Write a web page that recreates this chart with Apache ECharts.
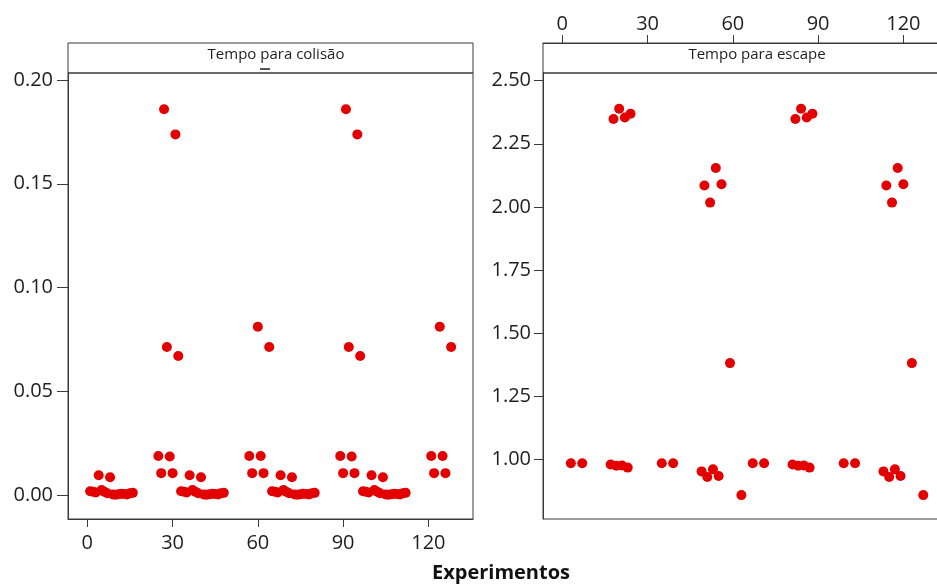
<!DOCTYPE html>
<html>
<head>
<meta charset="utf-8">
<title>Tempo para colisão / Tempo para escape</title>
<script src="https://cdn.jsdelivr.net/npm/echarts@6/dist/echarts.min.js"></script>
<style>
    * {
        margin: 0;
        padding: 0;
    }
    body {
        background-color: #ffffff;
    }
    #chart {
        width: 937px;
        height: 588px;
    }
</style>
</head>
<body>
<div id="chart"></div>
<script>
    // painel esquerdo - Tempo para colisão
    var expColisao = [1, 2, 3, 4, 5, 6, 7, 8, 9, 10, 11, 12, 13, 14, 15, 16,
        25, 26, 27, 28, 29, 30, 31, 32,
        33, 34, 35, 36, 37, 38, 39, 40, 41, 42, 43, 44, 45, 46, 47, 48,
        57, 58, 60, 61, 62, 64,
        65, 66, 67, 68, 69, 70, 71, 72, 73, 74, 75, 76, 77, 78, 79, 80,
        89, 90, 91, 92, 93, 94, 95, 96,
        97, 98, 99, 100, 101, 102, 103, 104, 105, 106, 107, 108, 109, 110, 111, 112,
        121, 122, 124, 125, 126, 128]
    var tempoColisao = [0.0018, 0.0015, 0.0012, 0.0095, 0.0024, 0.0015, 0.0008, 0.0085, 0.0002, 0.0001, 0.0003, 0.0006, 0.0005, 0.0002, 0.0008, 0.0010,
        0.0188, 0.0105, 0.1859, 0.0713, 0.0185, 0.0105, 0.1738, 0.0670,
        0.0018, 0.0015, 0.0012, 0.0095, 0.0024, 0.0015, 0.0008, 0.0085, 0.0002, 0.0001, 0.0003, 0.0006, 0.0005, 0.0002, 0.0008, 0.0010,
        0.0188, 0.0105, 0.0811, 0.0188, 0.0105, 0.0713,
        0.0018, 0.0015, 0.0012, 0.0095, 0.0024, 0.0015, 0.0008, 0.0085, 0.0002, 0.0001, 0.0003, 0.0006, 0.0005, 0.0002, 0.0008, 0.0010,
        0.0188, 0.0105, 0.1859, 0.0713, 0.0185, 0.0105, 0.1738, 0.0670,
        0.0018, 0.0015, 0.0012, 0.0095, 0.0024, 0.0015, 0.0008, 0.0085, 0.0002, 0.0001, 0.0003, 0.0006, 0.0005, 0.0002, 0.0008, 0.0010,
        0.0188, 0.0105, 0.0811, 0.0188, 0.0105, 0.0713]

    // painel direito - Tempo para escape
    var expEscape = [3, 7,
        17, 18, 19, 20, 21, 22, 23, 24,
        35, 39,
        49, 50, 51, 52, 53, 54, 55, 56,
        59, 63,
        67, 71,
        81, 82, 83, 84, 85, 86, 87, 88,
        99, 103,
        113, 114, 115, 116, 117, 118, 119, 120,
        123, 127]
    var tempoEscape = [0.984, 0.984,
        0.979, 2.348, 0.974, 2.389, 0.975, 2.354, 0.967, 2.369,
        0.984, 0.984,
        0.952, 2.085, 0.930, 2.017, 0.960, 2.154, 0.934, 2.090,
        1.381, 0.858,
        0.984, 0.984,
        0.979, 2.348, 0.974, 2.389, 0.975, 2.354, 0.967, 2.369,
        0.984, 0.984,
        0.952, 2.085, 0.930, 2.017, 0.960, 2.154, 0.934, 2.090,
        1.381, 0.858]

    var xTicks = [0, 30, 60, 90, 120]
    var yTicksColisao = [0, 0.05, 0.10, 0.15, 0.20]
    var yTicksEscape = [1.00, 1.25, 1.50, 1.75, 2.00, 2.25, 2.50]
    var paineis = ['Tempo para colisão', 'Tempo para escape']

    var corTexto = '#1e1e1e'
    var corLinha = '#3a3a3a'
    var corPonto = '#e30000'

    function eixoX(grid, pos, offset, margin) {
        return {
            type: 'value',
            gridIndex: grid,
            position: pos,
            offset: offset,
            min: -6.8,
            max: 135.7,
            axisLine: {show: true, onZero: false, lineStyle: {color: corLinha}},
            axisTick: {show: true, length: 8, customValues: xTicks, lineStyle: {color: corLinha}},
            axisLabel: {
                customValues: xTicks,
                margin: margin,
                color: corTexto,
                fontFamily: 'Open Sans',
                fontSize: 20
            },
            splitLine: {show: false}
        }
    }

    function eixoY(grid, min, max, ticks, tickLen, margin) {
        return {
            type: 'value',
            gridIndex: grid,
            min: min,
            max: max,
            axisLine: {show: true, onZero: false, lineStyle: {color: corLinha}},
            axisTick: {show: true, length: tickLen, customValues: ticks, lineStyle: {color: corLinha}},
            axisLabel: {
                customValues: ticks,
                margin: margin,
                color: corTexto,
                fontFamily: 'Open Sans',
                fontSize: 20,
                formatter: function (v) {
                    return v.toFixed(2)
                }
            },
            splitLine: {show: false}
        }
    }

    function pontos(x, y) {
        var d = []
        for (var i = 0; i < x.length; i++) {
            d.push([x[i], y[i]])
        }
        return d
    }

    var chart = echarts.init(document.getElementById('chart'))
    var option = {
        animation: false,
        backgroundColor: '#ffffff',
        grid: [
            {left: 68, top: 73, width: 405, height: 446, show: true, borderColor: corLinha, borderWidth: 1, outerBoundsMode: 'none'},
            // o painel direito continua além da borda da imagem
            {left: 543, top: 73, width: 405, height: 446, show: true, borderColor: corLinha, borderWidth: 1, outerBoundsMode: 'none'}
        ],
        xAxis: [eixoX(0, 'bottom', 0, 14), eixoX(1, 'top', 30, 9)],
        yAxis: [
            eixoY(0, -0.0116, 0.2034, yTicksColisao, 11, 15),
            eixoY(1, 0.7633, 2.5305, yTicksEscape, 9, 12)
        ],
        series: [
            {
                name: paineis[0],
                type: 'scatter',
                xAxisIndex: 0,
                yAxisIndex: 0,
                symbolSize: 10,
                itemStyle: {color: corPonto, opacity: 1},
                data: pontos(expColisao, tempoColisao)
            },
            {
                name: paineis[1],
                type: 'scatter',
                xAxisIndex: 1,
                yAxisIndex: 1,
                symbolSize: 10,
                itemStyle: {color: corPonto, opacity: 1},
                data: pontos(expEscape, tempoEscape)
            }
        ],
        graphic: [
            // faixas de título dos painéis
            {type: 'rect', shape: {x: 68, y: 43, width: 405, height: 30}, style: {fill: 'none', stroke: corLinha, lineWidth: 1}},
            {type: 'rect', shape: {x: 543, y: 43, width: 405, height: 30}, style: {fill: 'none', stroke: corLinha, lineWidth: 1}},
            {type: 'text', x: 276, y: 55, style: {text: paineis[0], fill: corTexto, font: '15px "Open Sans"', textAlign: 'center', textVerticalAlign: 'middle'}},
            {type: 'text', x: 757, y: 55, style: {text: paineis[1], fill: corTexto, font: '15px "Open Sans"', textAlign: 'center', textVerticalAlign: 'middle'}},
            {type: 'line', shape: {x1: 260, y1: 69, x2: 270, y2: 69}, style: {stroke: corTexto, lineWidth: 1.5}},
            {type: 'text', x: 501, y: 573, style: {text: 'Experimentos', fill: '#111', font: 'bold 20px "Open Sans"', textAlign: 'center', textVerticalAlign: 'middle'}}
        ]
    }
    chart.setOption(option)
</script>
</body>
</html>
